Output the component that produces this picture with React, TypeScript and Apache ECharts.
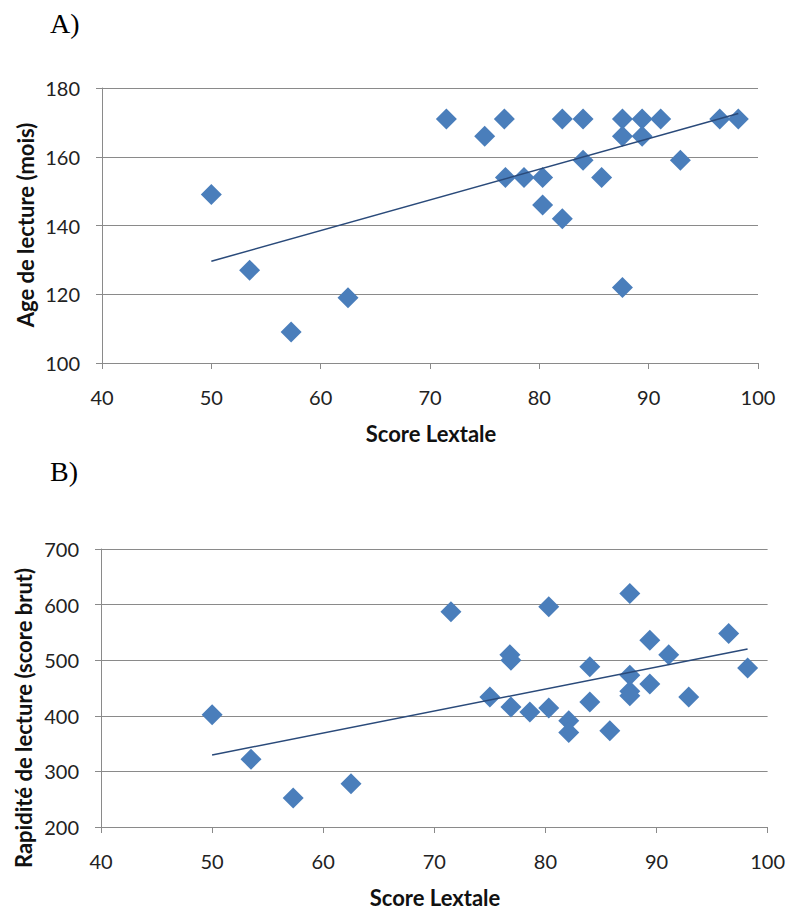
import React, { useEffect, useRef } from "react";
import * as echarts from "echarts";

// Panel A: Score Lextale vs Age de lecture (mois)
const lextaleA = [50.0, 53.5, 57.3, 62.5, 71.5, 75.0, 76.8, 76.9, 78.6, 80.3, 80.3, 82.1, 82.1, 84.0, 84.0, 85.7, 87.6, 87.6, 87.6, 89.4, 89.4, 91.1, 92.9, 96.5, 98.2];
const ageLectureA = [149, 127, 109, 119, 171, 166, 171, 154, 154, 154, 146, 171, 142, 171, 159, 154, 171, 166, 122, 171, 166, 171, 159, 171, 171];

// Panel B: Score Lextale vs Rapidité de lecture (score brut)
const lextaleB = [50.0, 53.5, 57.3, 62.5, 71.5, 75.0, 76.8, 76.9, 76.9, 78.6, 80.3, 80.3, 82.1, 82.1, 84.0, 84.0, 85.8, 87.6, 87.6, 87.6, 87.6, 89.4, 89.4, 91.1, 92.9, 96.5, 98.2];
const rapiditeB = [402, 322, 252, 278, 587, 434, 510, 500, 416, 407, 596, 414, 391, 370, 488, 425, 373, 620, 473, 444, 436, 536, 457, 510, 434, 548, 486];

// Trend lines (endpoints)
const trendX = [50, 98.2];
const trendA = [129.6, 172.6];
const trendB = [329.6, 520.0];

const xTicks = [40, 50, 60, 70, 80, 90, 100];
const yTicksA = [100, 120, 140, 160, 180];
const yTicksB = [200, 300, 400, 500, 600, 700];

const FONT = "Lato";
const GRAY = "#8a8a8a";
const MARKER = "#4a7ebb";
const TREND = "#2a4a7a";

export default function App() {
  const ref = useRef<HTMLDivElement>(null);
  useEffect(() => {
    if (!ref.current) return;
    const chart = echarts.init(ref.current, null, { renderer: "svg" });
    const xAxisBase = (gridIndex: number) => ({
      type: "value",
      gridIndex,
      min: xTicks[0],
      max: xTicks[xTicks.length - 1],
      interval: 10,
      axisLine: { show: true, lineStyle: { color: GRAY, width: 1 } },
      axisTick: { show: true, length: 6, lineStyle: { color: GRAY } },
      axisLabel: { color: "#222", fontFamily: FONT, fontSize: 20, margin: 24 },
      splitLine: { show: false },
    });
    const yAxisBase = (gridIndex: number, ticks: number[]) => ({
      type: "value",
      gridIndex,
      min: ticks[0],
      max: ticks[ticks.length - 1],
      interval: ticks[1] - ticks[0],
      axisLine: { show: true, lineStyle: { color: GRAY, width: 1 } },
      axisTick: { show: true, length: 6, lineStyle: { color: GRAY } },
      axisLabel: { color: "#222", fontFamily: FONT, fontSize: 20, margin: 22 },
      splitLine: { show: true, lineStyle: { color: GRAY, width: 1 } },
    });
    const titleStyle = { fontFamily: FONT, fontSize: 22, fontWeight: "bold", fill: "#111" };
    chart.setOption({
      animation: false,
      backgroundColor: "#fff",
      grid: [
        { left: 102, top: 88, width: 656, height: 275 },
        { left: 101, top: 549, width: 667, height: 278 },
      ],
      xAxis: [xAxisBase(0), xAxisBase(1)],
      yAxis: [yAxisBase(0, yTicksA), yAxisBase(1, yTicksB)],
      series: [
        {
          type: "scatter",
          xAxisIndex: 0,
          yAxisIndex: 0,
          symbol: "diamond",
          symbolSize: 21,
          itemStyle: { color: MARKER, opacity: 1 },
          data: lextaleA.map((x, i) => [x, ageLectureA[i]]),
          z: 2,
        },
        {
          type: "line",
          xAxisIndex: 0,
          yAxisIndex: 0,
          showSymbol: false,
          symbol: "none",
          lineStyle: { color: TREND, width: 1.5 },
          data: trendX.map((x, i) => [x, trendA[i]]),
          z: 3,
        },
        {
          type: "scatter",
          xAxisIndex: 1,
          yAxisIndex: 1,
          symbol: "diamond",
          symbolSize: 21,
          itemStyle: { color: MARKER, opacity: 1 },
          data: lextaleB.map((x, i) => [x, rapiditeB[i]]),
          z: 2,
        },
        {
          type: "line",
          xAxisIndex: 1,
          yAxisIndex: 1,
          showSymbol: false,
          symbol: "none",
          lineStyle: { color: TREND, width: 1.5 },
          data: trendX.map((x, i) => [x, trendB[i]]),
          z: 3,
        },
      ],
      graphic: [
        { type: "text", left: 50, top: 9, style: { text: "A)", fontFamily: "Liberation Serif", fontSize: 28, fill: "#000" } },
        { type: "text", left: 50, top: 457, style: { text: "B)", fontFamily: "Liberation Serif", fontSize: 28, fill: "#000" } },
        { type: "text", x: 431, y: 433, style: { ...titleStyle, text: "Score Lextale", align: "center", verticalAlign: "middle" } },
        { type: "text", x: 435, y: 897, style: { ...titleStyle, text: "Score Lextale", align: "center", verticalAlign: "middle" } },
        { type: "text", x: 25, y: 225, rotation: Math.PI / 2, style: { ...titleStyle, text: "Age de lecture (mois)", align: "center", verticalAlign: "middle" } },
        { type: "text", x: 23, y: 718, rotation: Math.PI / 2, style: { ...titleStyle, text: "Rapidité de lecture (score brut)", align: "center", verticalAlign: "middle" } },
      ],
    });
    return () => chart.dispose();
  }, []);
  return <div ref={ref} style={{ position: "fixed", left: 0, top: 0, width: 788, height: 909 }} />;
}
